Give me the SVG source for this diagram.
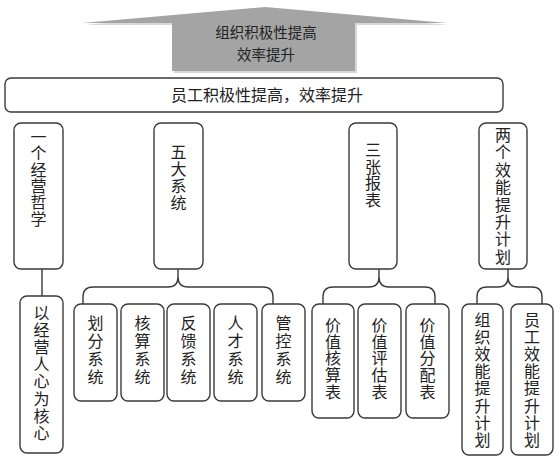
<svg xmlns="http://www.w3.org/2000/svg" width="560" height="462" viewBox="0 0 560 462">
<style>
.box{fill:#fff;stroke:#3a3a3a;stroke-width:1.4}
.con{fill:none;stroke:#3a3a3a;stroke-width:1.4}
text{font-family:"Noto Sans CJK SC","Noto Sans",sans-serif;font-size:16px;fill:#222;text-anchor:middle}
text.v{writing-mode:vertical-rl;text-anchor:start}
text.a{font-size:14.5px}
</style>
<rect width="560" height="462" fill="#fff"/>
<g id="arrow">
<polygon points="84,25 267,9 449,25 357,25 357,73 174,73 174,25" fill="#d8d8d8"/>
<polygon points="82,23 265,7 447,23 355,23 355,71 172,71 172,23" fill="#a4a4a4"/>
<text class="a" x="266" y="38">组织积极性提高</text>
<text class="a" x="266" y="59.5">效率提升</text>
</g>
<g id="bar">
<rect class="box" x="5" y="78" width="498" height="34" rx="6"/>
<text x="267" y="101">员工积极性提高，效率提升</text>
</g>
<g id="connectors">
<path class="con" d="M42,269 V296"/>
<path class="con" d="M83,304 V297 Q83,287 93,287 H168 Q178,287 178,277 V269 M178,277 Q178,287 188,287 H263 Q273,287 273,297 V304"/>
<path class="con" d="M323,304 V297 Q323,287 333,287 H369 Q379,287 379,277 V269 M379,277 Q379,287 389,287 H425 Q435,287 435,297 V304"/>
<path class="con" d="M477,304 V297 Q477,287 487,287 H498 Q508,287 508,277 V269 M508,277 Q508,287 518,287 H532 Q542,287 542,297 V304"/>
</g>
<g id="n1">
<rect class="box" x="14" y="123" width="49" height="146" rx="7"/>
<text class="v" x="38.5" y="129">一</text><text class="v" x="38.5" y="145.3">个</text><text class="v" x="38.5" y="161.6">经</text><text class="v" x="38.5" y="177.9">营</text><text class="v" x="38.5" y="194.2">哲</text><text class="v" x="38.5" y="210.5">学</text>
</g>
<g id="n2">
<rect class="box" x="154" y="123" width="49" height="146" rx="7"/>
<text class="v" x="178.5" y="144">五</text><text class="v" x="178.5" y="161">大</text><text class="v" x="178.5" y="178">系</text><text class="v" x="178.5" y="195">统</text>
</g>
<g id="n3">
<rect class="box" x="349" y="123" width="48" height="146" rx="7"/>
<text class="v" x="373" y="142">三</text><text class="v" x="373" y="158.7">张</text><text class="v" x="373" y="175.4">报</text><text class="v" x="373" y="192.1">表</text>
</g>
<g id="n4">
<rect class="box" x="479" y="123" width="48" height="146" rx="7"/>
<text class="v" x="503" y="127">两</text><text class="v" x="503" y="144.4">个</text><text class="v" x="503" y="161.8">效</text><text class="v" x="503" y="179.2">能</text><text class="v" x="503" y="196.6">提</text><text class="v" x="503" y="214">升</text><text class="v" x="503" y="231.4">计</text><text class="v" x="503" y="248.8">划</text>
</g>
<g id="n5">
<rect class="box" x="20" y="296" width="43" height="157" rx="7"/>
<text class="v" x="41.5" y="305">以</text><text class="v" x="41.5" y="322.1">经</text><text class="v" x="41.5" y="339.2">营</text><text class="v" x="41.5" y="356.3">人</text><text class="v" x="41.5" y="373.4">心</text><text class="v" x="41.5" y="390.5">为</text><text class="v" x="41.5" y="407.6">核</text><text class="v" x="41.5" y="424.7">心</text>
</g>
<g id="n6">
<rect class="box" x="74" y="304" width="43" height="97" rx="7"/>
<text class="v" x="95.5" y="315">划</text><text class="v" x="95.5" y="333">分</text><text class="v" x="95.5" y="351">系</text><text class="v" x="95.5" y="369">统</text>
</g>
<g id="n7">
<rect class="box" x="121" y="304" width="43" height="97" rx="7"/>
<text class="v" x="142.5" y="315">核</text><text class="v" x="142.5" y="333">算</text><text class="v" x="142.5" y="351">系</text><text class="v" x="142.5" y="369">统</text>
</g>
<g id="n8">
<rect class="box" x="167" y="304" width="43" height="97" rx="7"/>
<text class="v" x="188.5" y="315">反</text><text class="v" x="188.5" y="333">馈</text><text class="v" x="188.5" y="351">系</text><text class="v" x="188.5" y="369">统</text>
</g>
<g id="n9">
<rect class="box" x="214" y="304" width="43" height="97" rx="7"/>
<text class="v" x="235.5" y="315">人</text><text class="v" x="235.5" y="333">才</text><text class="v" x="235.5" y="351">系</text><text class="v" x="235.5" y="369">统</text>
</g>
<g id="n10">
<rect class="box" x="262" y="304" width="43" height="97" rx="7"/>
<text class="v" x="283.5" y="315">管</text><text class="v" x="283.5" y="333">控</text><text class="v" x="283.5" y="351">系</text><text class="v" x="283.5" y="369">统</text>
</g>
<g id="n11">
<rect class="box" x="312" y="304" width="42" height="114" rx="7"/>
<text class="v" x="333" y="317">价</text><text class="v" x="333" y="333.7">值</text><text class="v" x="333" y="350.4">核</text><text class="v" x="333" y="367.1">算</text><text class="v" x="333" y="383.8">表</text>
</g>
<g id="n12">
<rect class="box" x="358" y="304" width="43" height="114" rx="7"/>
<text class="v" x="379.5" y="317">价</text><text class="v" x="379.5" y="333.7">值</text><text class="v" x="379.5" y="350.4">评</text><text class="v" x="379.5" y="367.1">估</text><text class="v" x="379.5" y="383.8">表</text>
</g>
<g id="n13">
<rect class="box" x="406" y="304" width="43" height="114" rx="7"/>
<text class="v" x="427.5" y="317">价</text><text class="v" x="427.5" y="333.7">值</text><text class="v" x="427.5" y="350.4">分</text><text class="v" x="427.5" y="367.1">配</text><text class="v" x="427.5" y="383.8">表</text>
</g>
<g id="n14">
<rect class="box" x="462" y="304" width="41" height="151" rx="7"/>
<text class="v" x="482.5" y="312">组</text><text class="v" x="482.5" y="329.1">织</text><text class="v" x="482.5" y="346.2">效</text><text class="v" x="482.5" y="363.3">能</text><text class="v" x="482.5" y="380.4">提</text><text class="v" x="482.5" y="397.5">升</text><text class="v" x="482.5" y="414.6">计</text><text class="v" x="482.5" y="431.7">划</text>
</g>
<g id="n15">
<rect class="box" x="511" y="304" width="42" height="151" rx="7"/>
<text class="v" x="532" y="312">员</text><text class="v" x="532" y="329.1">工</text><text class="v" x="532" y="346.2">效</text><text class="v" x="532" y="363.3">能</text><text class="v" x="532" y="380.4">提</text><text class="v" x="532" y="397.5">升</text><text class="v" x="532" y="414.6">计</text><text class="v" x="532" y="431.7">划</text>
</g>
</svg>
